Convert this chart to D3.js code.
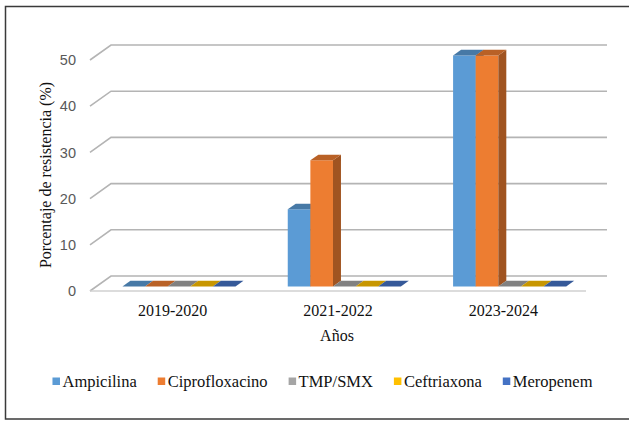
<!DOCTYPE html>
<html lang="es">
<head>
    <meta charset="UTF-8">
    <script src="https://cdn.jsdelivr.net/npm/d3@7"></script>
    <title>Porcentaje de resistencia</title>
    <style>
        body { margin: 0; background: white; }
        svg { display: block; }
        .serif { font-family: "Liberation Serif", "Times New Roman", serif; }
        .tick-label { font-family: "Liberation Sans", Arial, sans-serif; font-size: 14.5px; fill: #595959; }
    </style>
</head>
<body>
    <div id="chart"></div>
    <script>
        // data
        const years = ["2019-2020", "2021-2022", "2023-2024"];
        const series = ["Ampicilina", "Ciprofloxacino", "TMP/SMX", "Ceftriaxona", "Meropenem"];
        const colors = ["#5B9BD5", "#ED7D31", "#A5A5A5", "#FFC000", "#4472C4"];
        const ampicilina = [0, 16.7, 50];
        const ciprofloxacino = [0, 27.3, 50];
        const tmpSmx = [0, 0, 0];
        const ceftriaxona = [0, 0, 0];
        const meropenem = [0, 0, 0];
        const yTicks = [0, 10, 20, 30, 40, 50];

        const values = [ampicilina, ciprofloxacino, tmpSmx, ceftriaxona, meropenem];

        const width = 629, height = 421;
        const svg = d3.select("#chart").append("svg")
            .attr("width", width)
            .attr("height", height);

        // outer frame (open to the right like the cropped original)
        svg.append("rect")
            .attr("x", 5.5).attr("y", 6.5)
            .attr("width", 640).attr("height", 412.5)
            .attr("fill", "none")
            .attr("stroke", "#3a3a3a")
            .attr("stroke-width", 1.5);

        // 3d-ish geometry
        const depthX = 21, depthY = 15;
        const x = d3.scaleBand().domain(years).range([90, 586]);
        const y = d3.scaleLinear().domain([0, 50]).range([291, 60]);
        const groupW = x.bandwidth() * 0.684;
        const xs = d3.scaleBand().domain(series).range([0, groupW]);
        const proj = (px, v, d) => [px + d * depthX, y(v) - d * depthY];
        const d0 = 0.3, d1 = 0.68;

        // gridlines: side wall diagonal + back wall line
        const grid = svg.append("g");
        yTicks.forEach(v => {
            const p = d3.path();
            const a = proj(90, v, 0), b = proj(90, v, 1), c = proj(586, v, 1);
            p.moveTo(a[0], a[1]); p.lineTo(b[0], b[1]); p.lineTo(c[0], c[1]);
            grid.append("path")
                .attr("d", p.toString())
                .attr("fill", "none")
                .attr("stroke", "#b4b4b4")
                .attr("stroke-width", 1.6);
        });
        // floor front edge
        grid.append("line")
            .attr("x1", 90).attr("x2", 586)
            .attr("y1", y(0)).attr("y2", y(0))
            .attr("stroke", "#d0d0d0")
            .attr("stroke-width", 1.3);

        // tick labels
        svg.append("g").selectAll("text")
            .data(yTicks)
            .join("text")
            .attr("class", "tick-label")
            .attr("x", 76)
            .attr("y", d => y(d))
            .attr("dy", "0.36em")
            .attr("text-anchor", "end")
            .text(d => d);

        // bars
        const bars = svg.append("g");
        years.forEach((yr, i) => {
            const gx = x(yr) + (x.bandwidth() - groupW) / 2;
            series.forEach((s, j) => {
                const v = values[j][i];
                const col = d3.rgb(colors[j]);
                const xl = gx + xs(s), xr = xl + xs.bandwidth();
                const poly = pts => pts.map(p => p.join(",")).join(" ");
                if (v > 0) {
                    // front
                    bars.append("polygon")
                        .attr("points", poly([proj(xl, 0, d0), proj(xr, 0, d0), proj(xr, v, d0), proj(xl, v, d0)]))
                        .attr("fill", col.formatHex());
                    // side
                    bars.append("polygon")
                        .attr("points", poly([proj(xr, 0, d0), proj(xr, 0, d1), proj(xr, v, d1), proj(xr, v, d0)]))
                        .attr("fill", col.darker(1.1).formatHex());
                }
                // top
                bars.append("polygon")
                    .attr("points", poly([proj(xl, v, d0), proj(xr, v, d0), proj(xr, v, d1), proj(xl, v, d1)]))
                    .attr("fill", col.darker(0.7).formatHex());
            });
        });

        // category labels
        svg.append("g").selectAll("text")
            .data(years)
            .join("text")
            .attr("class", "serif")
            .attr("x", d => x(d) + x.bandwidth() / 2)
            .attr("y", 315.5)
            .attr("text-anchor", "middle")
            .style("font-size", "16px")
            .attr("fill", "#111")
            .text(d => d);

        // axis titles
        svg.append("text")
            .attr("class", "serif")
            .attr("x", 337).attr("y", 340.5)
            .attr("text-anchor", "middle")
            .style("font-size", "16px")
            .attr("fill", "#111")
            .text("Años");

        svg.append("text")
            .attr("class", "serif")
            .attr("transform", "translate(51,175) rotate(-90)")
            .attr("text-anchor", "middle")
            .style("font-size", "16px")
            .attr("fill", "#111")
            .text("Porcentaje de resistencia (%)");

        // legend
        const legend = svg.append("g");
        let lx = 0;
        series.forEach((s, j) => {
            const item = legend.append("g").attr("transform", `translate(${lx},0)`);
            item.append("rect")
                .attr("x", 0).attr("y", -4)
                .attr("width", 7.5).attr("height", 7.5)
                .attr("fill", colors[j]);
            const t = item.append("text")
                .attr("class", "serif")
                .attr("x", 10)
                .attr("y", 5.5)
                .style("font-size", "16.5px")
                .attr("fill", "#111")
                .text(s);
            lx += 10 + t.node().getComputedTextLength() + 21;
        });
        const legendW = lx - 21;
        legend.attr("transform", `translate(${322.5 - legendW / 2},381.5)`);
    </script>
</body>
</html>
